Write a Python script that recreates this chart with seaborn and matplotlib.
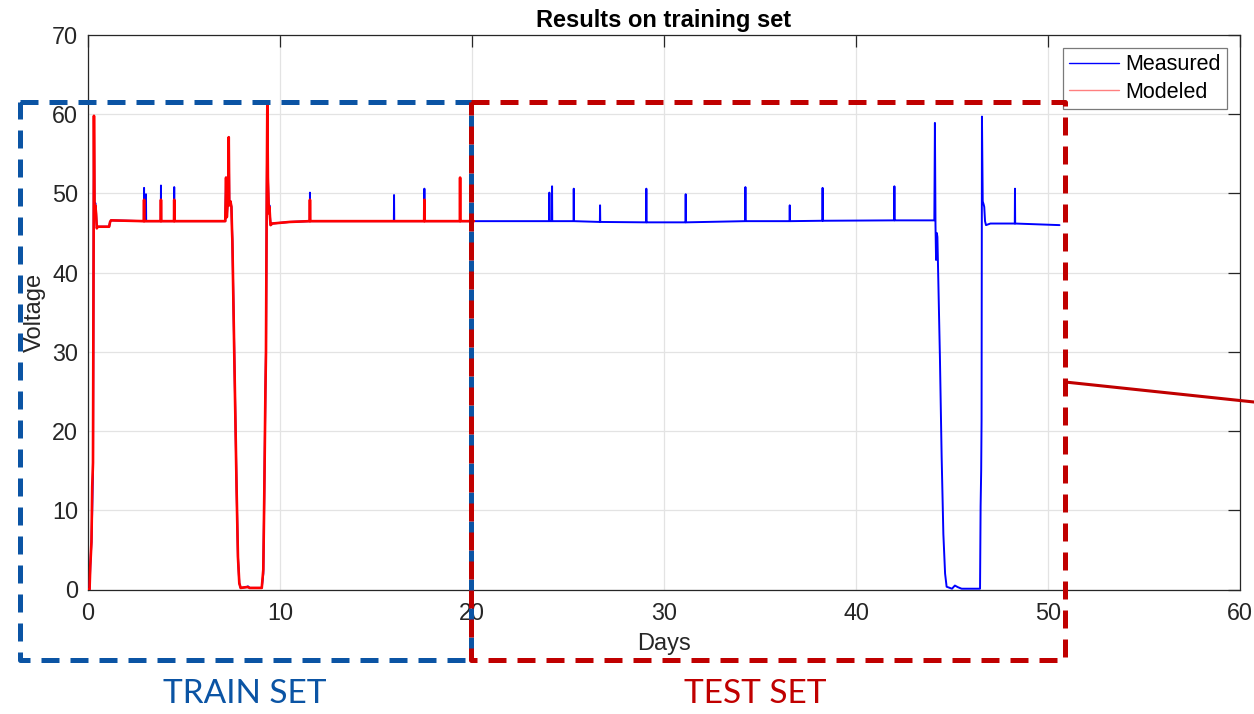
import numpy as np
import pandas as pd
import matplotlib
matplotlib.use("Agg")
import matplotlib.pyplot as plt
import seaborn as sns
from matplotlib.lines import Line2D

# ---- data -------------------------------------------------------------
# measured voltage (days, volts)
measured_days = [
    0.00, 0.08, 0.12, 0.18, 0.22, 0.26, 0.29, 0.31, 0.34, 0.38, 0.42, 0.46, 0.50,
    1.10, 1.15, 1.20,
    2.91, 2.92, 2.93, 3.01, 3.02, 3.03, 3.79, 3.80, 3.81, 4.48, 4.49, 4.50,
    7.15, 7.19, 7.23, 7.30, 7.33, 7.36, 7.42, 7.47, 7.50, 7.52, 7.62, 7.74, 7.81,
    7.88, 7.95, 8.25, 8.33, 8.42, 9.05, 9.13, 9.18, 9.24, 9.27, 9.31, 9.34, 9.37,
    9.42, 9.45, 9.48, 9.51, 9.60, 10.50,
    11.55, 11.56, 11.57, 15.93, 15.94, 15.95, 17.51, 17.52, 17.53, 20.00,
    24.02, 24.03, 24.04, 24.16, 24.17, 24.18, 25.29, 25.30, 25.31, 26.66, 26.67, 26.68,
    29.07, 29.08, 29.09, 31.12, 31.13, 31.14, 34.23, 34.24, 34.25, 36.54, 36.55, 36.56,
    38.25, 38.26, 38.27, 41.99, 42.00, 42.01,
    44.08, 44.11, 44.14, 44.17, 44.21, 44.24, 44.37, 44.46, 44.55, 44.64, 44.72,
    45.00, 45.15, 45.30, 45.50, 46.46, 46.49, 46.52, 46.54, 46.56, 46.60, 46.65,
    46.68, 46.72, 46.77, 47.00, 48.27, 48.28, 48.29, 50.60,
]
measured_volts = [
    0.0, 0.0, 3.0, 6.0, 10.0, 15.0, 40.0, 59.5, 48.0, 48.8, 47.5, 45.6, 45.8,
    45.8, 46.4, 46.6,
    46.5, 50.7, 46.5, 46.5, 49.9, 46.5, 46.5, 51.0, 46.5, 46.5, 50.8, 46.5,
    46.5, 52.0, 47.0, 50.0, 57.1, 48.5, 49.0, 48.3, 45.4, 44.0, 29.4, 12.6, 4.1,
    0.8, 0.2, 0.3, 0.4, 0.2, 0.2, 2.0, 11.7, 25.0, 30.0, 50.0, 59.7, 52.0,
    47.5, 48.5, 47.0, 46.0, 46.2, 46.4,
    46.5, 50.1, 46.5, 46.5, 49.8, 46.5, 46.5, 50.6, 46.5, 46.5,
    46.5, 50.1, 46.5, 46.5, 50.9, 46.5, 46.5, 50.6, 46.5, 46.4, 48.5, 46.4,
    46.35, 50.6, 46.35, 46.35, 49.9, 46.35, 46.5, 50.8, 46.5, 46.5, 48.5, 46.5,
    46.55, 50.7, 46.55, 46.6, 50.9, 46.6,
    46.6, 58.9, 46.0, 41.6, 45.0, 44.5, 29.4, 16.8, 7.0, 2.0, 0.35,
    0.1, 0.5, 0.3, 0.1, 0.1, 10.5, 15.0, 21.4, 59.7, 49.0, 48.6,
    48.3, 46.5, 46.0, 46.2, 46.2, 50.6, 46.2, 46.0,
]

# modelled voltage over the training period
modeled_days = [
    0.00, 0.08, 0.12, 0.18, 0.22, 0.26, 0.29, 0.31, 0.34, 0.38, 0.42, 0.46, 0.50,
    1.10, 1.15, 1.20,
    2.91, 2.92, 2.93, 3.79, 3.80, 3.81, 4.48, 4.49, 4.50,
    7.15, 7.19, 7.23, 7.30, 7.33, 7.36, 7.42, 7.47, 7.50, 7.52, 7.62, 7.74, 7.81,
    7.88, 7.95, 8.25, 8.33, 8.42, 9.05, 9.13, 9.18, 9.24, 9.27, 9.31, 9.34, 9.37,
    9.42, 9.45, 9.48, 9.51, 9.60, 10.50,
    11.55, 11.56, 11.57, 17.51, 17.52, 17.53, 19.37, 19.38, 19.39, 20.10,
]
modeled_volts = [
    0.0, 0.0, 3.0, 6.0, 13.0, 16.0, 42.0, 59.8, 48.0, 48.5, 47.5, 45.6, 45.8,
    45.8, 46.4, 46.6,
    46.5, 49.2, 46.5, 46.5, 49.2, 46.5, 46.5, 49.2, 46.5,
    46.5, 52.0, 47.0, 50.0, 57.1, 48.5, 49.0, 48.3, 45.4, 44.0, 29.4, 12.6, 4.1,
    0.8, 0.2, 0.3, 0.3, 0.2, 0.2, 2.5, 11.7, 25.0, 30.0, 50.0, 61.4, 52.0,
    47.5, 48.3, 47.0, 46.0, 46.2, 46.4,
    46.5, 49.2, 46.5, 46.5, 49.2, 46.5, 46.5, 52.0, 46.5, 46.5,
]

x_ticks = [0, 10, 20, 30, 40, 50, 60]
y_ticks = [0, 10, 20, 30, 40, 50, 60, 70]

measured = pd.DataFrame({"Days": measured_days, "Voltage": measured_volts})
modeled = pd.DataFrame({"Days": modeled_days, "Voltage": modeled_volts})

# ---- style ------------------------------------------------------------
sns.set_style("white")
plt.rcParams["font.family"] = ["Liberation Sans", "DejaVu Sans"]
dark = "#262626"
box_blue = "#0b54a4"
box_red = "#c00000"

fig = plt.figure(figsize=(12.54, 7.14), dpi=100)
ax = fig.add_axes([88 / 1254, 1 - 589.5 / 714, 1152 / 1254, 554.5 / 714])

sns.lineplot(data=measured, x="Days", y="Voltage", sort=False, estimator=None,
             color="#0000ff", lw=1.4, ax=ax, zorder=3)
sns.lineplot(data=modeled, x="Days", y="Voltage", sort=False, estimator=None,
             color="#ff0000", lw=1.9, ax=ax, zorder=4)

ax.set_xlim(0, 60)
ax.set_ylim(0, 70)
ax.set_xticks(x_ticks)
ax.set_yticks(y_ticks)
ax.grid(True, color="#e3e3e3", lw=0.9)
ax.set_axisbelow(True)
for s in ax.spines.values():
    s.set_visible(True)
    s.set_color(dark)
    s.set_linewidth(0.9)
ax.tick_params(direction="in", length=8.5, width=0.9, color=dark,
               top=True, right=True, labelsize=16.8, labelcolor=dark)
ax.tick_params(axis="x", pad=9)
ax.tick_params(axis="y", pad=7)

ax.set_title("Results on training set", fontsize=17, fontweight="bold",
             color="black", pad=6)
ax.set_xlabel("Days", fontsize=17, color=dark)
ax.set_ylabel("Voltage", fontsize=17, color=dark)
ax.xaxis.set_label_coords(0.5, (589.5 - 633) / 554.5)
ax.yaxis.set_label_coords((46 - 88) / 1152, 0.5)

handles = [Line2D([], [], color="#0000ff", lw=1.0),
           Line2D([], [], color="#ff0000", lw=1.0, alpha=0.5)]
leg = ax.legend(handles, ["Measured", "Modeled"], loc="upper right",
                bbox_to_anchor=((1227 - 88) / 1152, (589.5 - 48) / 554.5),
                borderaxespad=0, fontsize=15.5, fancybox=False, framealpha=1,
                edgecolor="#7a7a7a", handlelength=2.3, handletextpad=0.3,
                borderpad=0.3, labelspacing=0.3, labelcolor="black")
leg.get_frame().set_linewidth(0.9)

# ---- train / test region boxes (figure coordinates) -------------------
W, H = 1254.0, 714.0


def fx(px):
    return px / W


def fy(py):
    return 1 - py / H


dash = (0, (3.6, 2.2))
x_left, x_mid, x_right = 20, 471, 1065
y_top, y_bot = 102, 660

for xs, ys, c in [
    ([x_left, x_mid, x_mid, x_left, x_left], [y_top, y_top, y_bot, y_bot, y_top], box_blue),
    ([x_mid, x_right, x_right, x_mid, x_mid], [y_top, y_top, y_bot, y_bot, y_top], box_red),
]:
    fig.add_artist(Line2D([fx(v) for v in xs], [fy(v) for v in ys],
                          transform=fig.transFigure, color=c, lw=3.6,
                          linestyle=dash, zorder=10))

fig.add_artist(Line2D([fx(x_right), fx(1300)], [fy(382), fy(382 + (1300 - 1065) * 20 / 189)],
                      transform=fig.transFigure, color=box_red, lw=2.2, zorder=10))

fig.text(fx(245), fy(694), "TRAIN SET", color=box_blue, fontsize=24,
         family="Lato", ha="center", va="center")
fig.text(fx(755), fy(694), "TEST SET", color=box_red, fontsize=24,
         family="Lato", ha="center", va="center")

fig.savefig("out.png", dpi=100)
